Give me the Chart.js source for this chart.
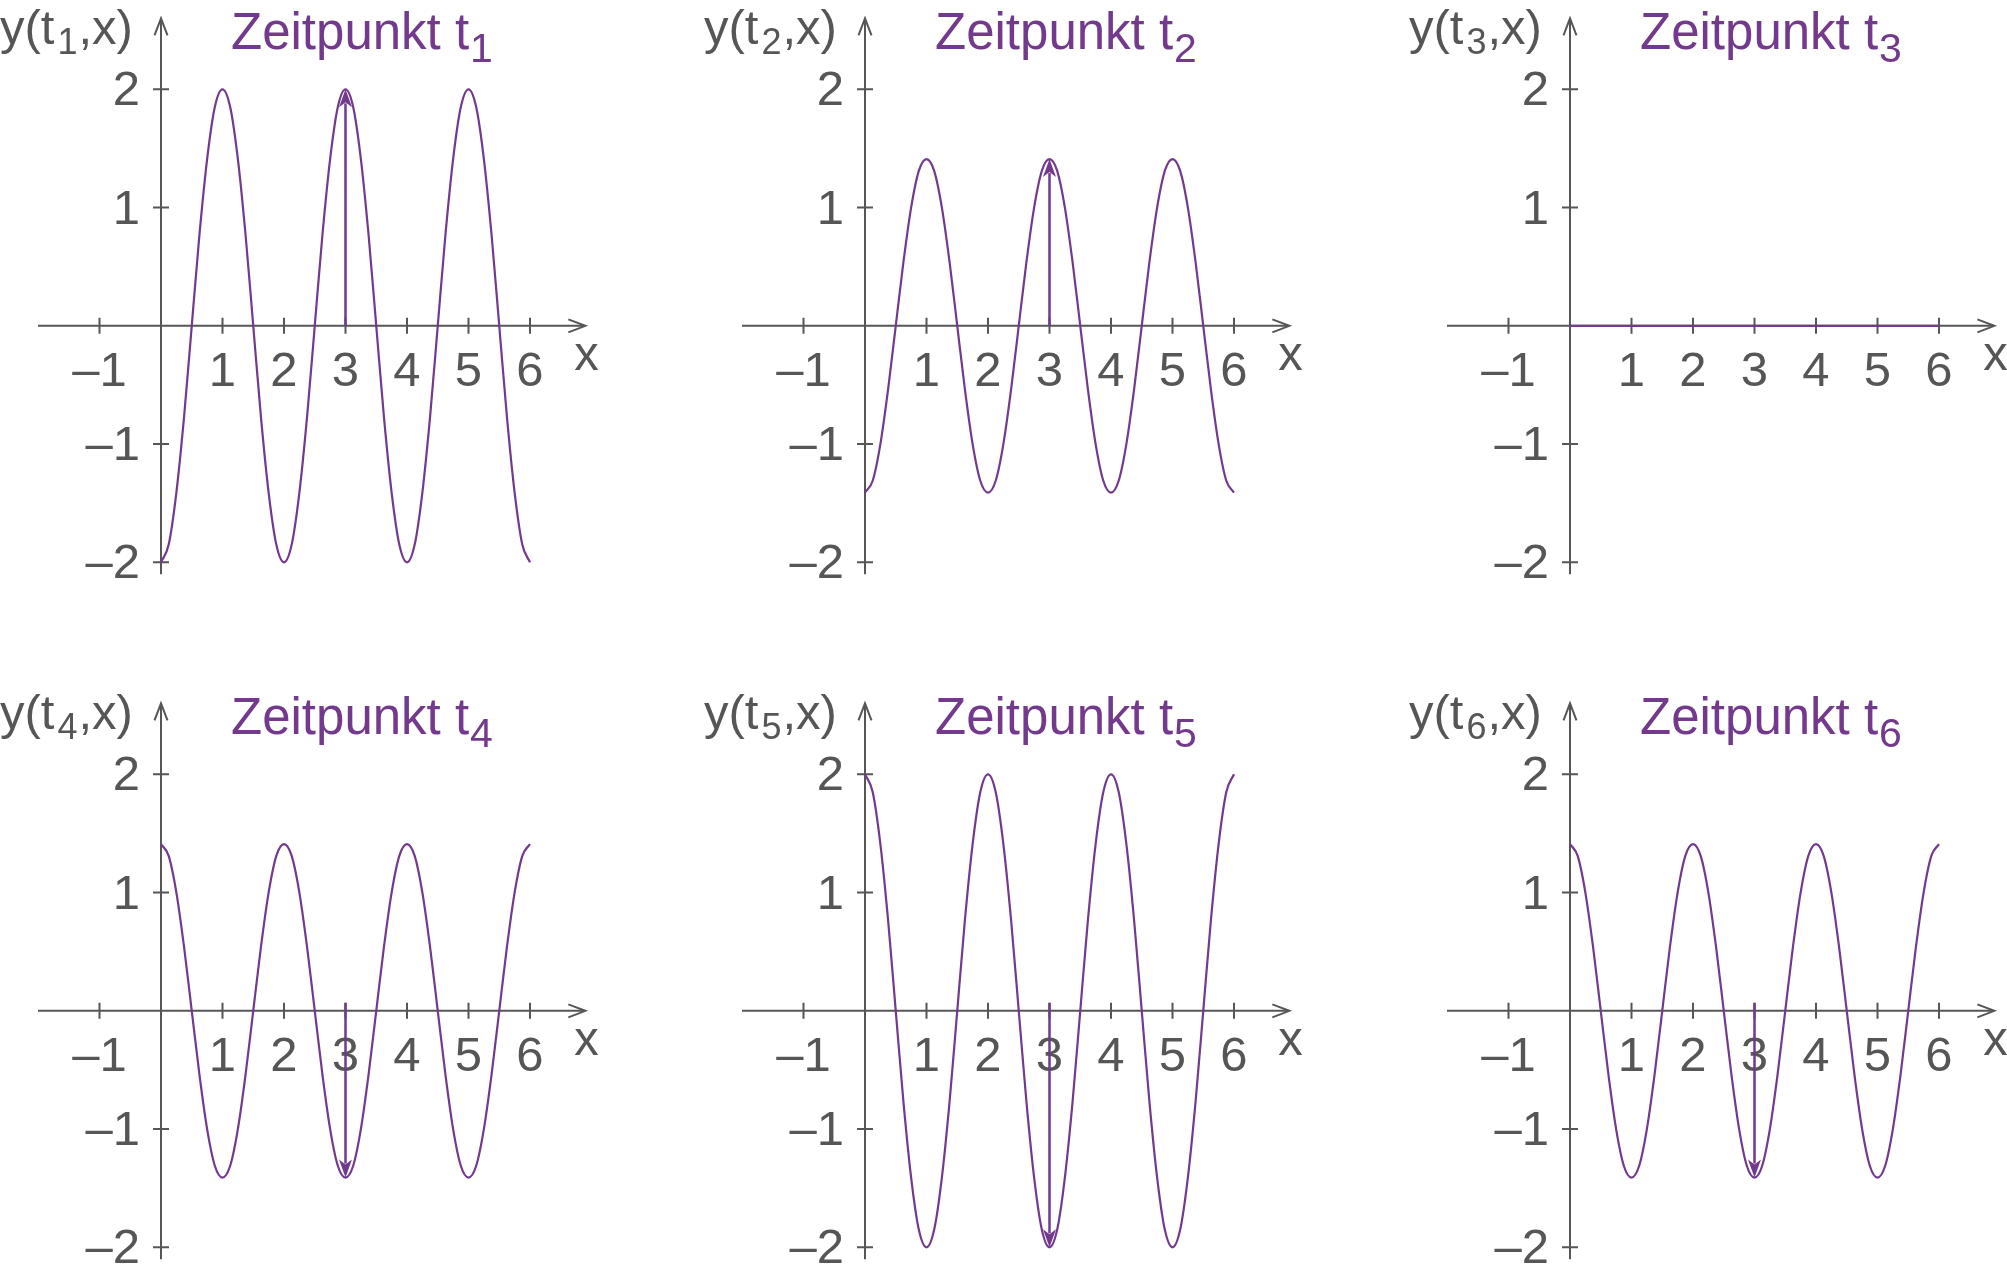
<!DOCTYPE html>
<html>
<head>
<meta charset="utf-8">
<script src="https://cdn.jsdelivr.net/npm/chart.js@4.4.0/dist/chart.umd.min.js"></script>
<style>
  html, body { margin: 0; padding: 0; background: #fff; overflow: hidden; }
  #wrap { position: relative; width: 2007px; height: 1272px; background: #fff; }
  #wrap canvas { position: absolute; }
</style>
</head>
<body>
<div id="wrap"></div>
<script>
// x positions of the sampled points (same for all six snapshots)
const xs = [
  0, 0.125, 0.25, 0.375, 0.5, 0.625, 0.75, 0.875,
  1, 1.125, 1.25, 1.375, 1.5, 1.625, 1.75, 1.875,
  2, 2.125, 2.25, 2.375, 2.5, 2.625, 2.75, 2.875,
  3, 3.125, 3.25, 3.375, 3.5, 3.625, 3.75, 3.875,
  4, 4.125, 4.25, 4.375, 4.5, 4.625, 4.75, 4.875,
  5, 5.125, 5.25, 5.375, 5.5, 5.625, 5.75, 5.875,
  6
];

// y(t_n, x)
const yT1 = [
  -2, -1.85, -1.41, -0.77, 0, 0.77, 1.41, 1.85, 2, 1.85, 1.41, 0.77, 0, -0.77, -1.41, -1.85,
  -2, -1.85, -1.41, -0.77, 0, 0.77, 1.41, 1.85, 2, 1.85, 1.41, 0.77, 0, -0.77, -1.41, -1.85,
  -2, -1.85, -1.41, -0.77, 0, 0.77, 1.41, 1.85, 2, 1.85, 1.41, 0.77, 0, -0.77, -1.41, -1.85,
  -2
];
const yT2 = [
  -1.41, -1.31, -1, -0.54, 0, 0.54, 1, 1.31, 1.41, 1.31, 1, 0.54, 0, -0.54, -1, -1.31,
  -1.41, -1.31, -1, -0.54, 0, 0.54, 1, 1.31, 1.41, 1.31, 1, 0.54, 0, -0.54, -1, -1.31,
  -1.41, -1.31, -1, -0.54, 0, 0.54, 1, 1.31, 1.41, 1.31, 1, 0.54, 0, -0.54, -1, -1.31,
  -1.41
];
const yT3 = [
  0, 0, 0, 0, 0, 0, 0, 0, 0, 0, 0, 0, 0, 0, 0, 0,
  0, 0, 0, 0, 0, 0, 0, 0, 0, 0, 0, 0, 0, 0, 0, 0,
  0, 0, 0, 0, 0, 0, 0, 0, 0, 0, 0, 0, 0, 0, 0, 0,
  0
];
const yT4 = [
  1.41, 1.31, 1, 0.54, 0, -0.54, -1, -1.31, -1.41, -1.31, -1, -0.54, 0, 0.54, 1, 1.31,
  1.41, 1.31, 1, 0.54, 0, -0.54, -1, -1.31, -1.41, -1.31, -1, -0.54, 0, 0.54, 1, 1.31,
  1.41, 1.31, 1, 0.54, 0, -0.54, -1, -1.31, -1.41, -1.31, -1, -0.54, 0, 0.54, 1, 1.31,
  1.41
];
const yT5 = [
  2, 1.85, 1.41, 0.77, 0, -0.77, -1.41, -1.85, -2, -1.85, -1.41, -0.77, 0, 0.77, 1.41, 1.85,
  2, 1.85, 1.41, 0.77, 0, -0.77, -1.41, -1.85, -2, -1.85, -1.41, -0.77, 0, 0.77, 1.41, 1.85,
  2, 1.85, 1.41, 0.77, 0, -0.77, -1.41, -1.85, -2, -1.85, -1.41, -0.77, 0, 0.77, 1.41, 1.85,
  2
];
const yT6 = [
  1.41, 1.31, 1, 0.54, 0, -0.54, -1, -1.31, -1.41, -1.31, -1, -0.54, 0, 0.54, 1, 1.31,
  1.41, 1.31, 1, 0.54, 0, -0.54, -1, -1.31, -1.41, -1.31, -1, -0.54, 0, 0.54, 1, 1.31,
  1.41, 1.31, 1, 0.54, 0, -0.54, -1, -1.31, -1.41, -1.31, -1, -0.54, 0, 0.54, 1, 1.31,
  1.41
];

const panelSeries = [yT1, yT2, yT3, yT4, yT5, yT6];
const panelSubs = ['1', '2', '3', '4', '5', '6'];
// displacement arrow at x = 3 (null = no arrow)
const arrowX = 3;
const arrowTips = [2, 1.41, null, -1.41, -2, -1.41];

const xTicks = [-1, 1, 2, 3, 4, 5, 6];
const yTicks = [-2, -1, 1, 2];

const PURPLE = '#72398c';
const GREY = '#565656';
const FONT = '"Liberation Sans", Arial, Helvetica, sans-serif';

const panelLeft = [0, 704, 1409];
const panelTop = [0, 685];
const W = 704, H = 590;

function tickLabel(v) {
  return v < 0 ? '\u2013' + (-v) : String(v);
}

// arrow head with tip at (x, y) pointing along angle
function drawHead(ctx, x, y, ang, filled) {
  ctx.save();
  ctx.translate(x, y);
  ctx.rotate(ang);
  ctx.beginPath();
  if (filled) {
    ctx.moveTo(0, 0);
    ctx.lineTo(-18, -6.5);
    ctx.lineTo(-13, 0);
    ctx.lineTo(-18, 6.5);
    ctx.closePath();
    ctx.fill();
  } else {
    ctx.moveTo(-17, -6.5);
    ctx.lineTo(0, 0);
    ctx.lineTo(-17, 6.5);
    ctx.stroke();
  }
  ctx.restore();
}

const axesPlugin = {
  id: 'crossAxes',
  beforeDatasetsDraw(chart) {
    const ctx = chart.ctx;
    const sx = chart.scales.x, sy = chart.scales.y;
    const x0 = sx.getPixelForValue(0), y0 = sy.getPixelForValue(0);
    const sub = chart.options.plugins.crossAxes.sub;
    ctx.save();
    ctx.strokeStyle = GREY;
    ctx.fillStyle = GREY;
    ctx.lineWidth = 2;

    // x axis with arrow
    const xl = sx.getPixelForValue(-2), xr = sx.getPixelForValue(6.9);
    ctx.beginPath(); ctx.moveTo(xl, y0); ctx.lineTo(xr - 1, y0); ctx.stroke();
    drawHead(ctx, xr, y0, 0, false);

    // y axis with arrow
    const yb = sy.getPixelForValue(-2.1), yt = sy.getPixelForValue(2.6);
    ctx.beginPath(); ctx.moveTo(x0, yb); ctx.lineTo(x0, yt + 1); ctx.stroke();
    drawHead(ctx, x0, yt, -Math.PI / 2, false);

    // tick marks
    ctx.beginPath();
    xTicks.forEach(v => {
      const p = sx.getPixelForValue(v);
      ctx.moveTo(p, y0 - 8); ctx.lineTo(p, y0 + 8);
    });
    yTicks.forEach(v => {
      const p = sy.getPixelForValue(v);
      ctx.moveTo(x0 - 8, p); ctx.lineTo(x0 + 8, p);
    });
    ctx.stroke();

    // tick labels
    ctx.font = '49px ' + FONT;
    ctx.textBaseline = 'alphabetic';
    ctx.textAlign = 'center';
    xTicks.forEach(v => {
      ctx.fillText(tickLabel(v), sx.getPixelForValue(v), y0 + 60);
    });
    ctx.textAlign = 'right';
    yTicks.forEach(v => {
      ctx.fillText(tickLabel(v), x0 - 21, sy.getPixelForValue(v) + 16);
    });

    // axis names
    ctx.textAlign = 'left';
    ctx.fillText('x', xr - 11, y0 + 44);

    ctx.font = '49px ' + FONT;
    let px = x0 - 161;
    const by = y0 - 282;
    ctx.fillText('y(t', px, by);
    px += ctx.measureText('y(t').width;
    ctx.font = '36px ' + FONT;
    ctx.fillText(sub, px + 3, by + 10);
    px += ctx.measureText(sub).width + 4;
    ctx.font = '49px ' + FONT;
    ctx.fillText(',x)', px, by);
    ctx.restore();
  },
  afterDatasetsDraw(chart) {
    const ctx = chart.ctx;
    const sx = chart.scales.x, sy = chart.scales.y;
    const o = chart.options.plugins.crossAxes;
    const y0 = sy.getPixelForValue(0);
    ctx.save();
    // title
    ctx.fillStyle = PURPLE;
    ctx.font = '51px ' + FONT;
    ctx.textAlign = 'left';
    ctx.textBaseline = 'alphabetic';
    const tx = sx.getPixelForValue(0) + 70, ty = y0 - 277;
    ctx.fillText('Zeitpunkt t', tx, ty);
    const w = ctx.measureText('Zeitpunkt t').width;
    ctx.font = '41px ' + FONT;
    ctx.fillText(o.sub, tx + w + 1, ty + 13);

    // displacement arrow
    if (o.tip !== null) {
      const ax = sx.getPixelForValue(arrowX);
      const tip = sy.getPixelForValue(o.tip);
      const dir = o.tip > 0 ? 1 : -1;
      ctx.strokeStyle = PURPLE;
      ctx.lineWidth = 2.5;
      ctx.beginPath();
      ctx.moveTo(ax, dir > 0 ? y0 : y0 - 8);
      ctx.lineTo(ax, tip + dir * 14);
      ctx.stroke();
      drawHead(ctx, ax, tip, dir > 0 ? -Math.PI / 2 : Math.PI / 2, true);
    }
    ctx.restore();
  }
};

const wrap = document.getElementById('wrap');

panelSeries.forEach((ys, i) => {
  const cv = document.createElement('canvas');
  cv.width = W; cv.height = H;
  cv.style.left = panelLeft[i % 3] + 'px';
  cv.style.top = panelTop[Math.floor(i / 3)] + 'px';
  wrap.appendChild(cv);

  new Chart(cv.getContext('2d'), {
    type: 'line',
    data: {
      datasets: [{
        data: xs.map((x, k) => ({ x: x, y: ys[k] })),
        borderColor: PURPLE,
        borderWidth: 2.2,
        pointRadius: 0,
        cubicInterpolationMode: 'monotone',
        fill: false
      }]
    },
    options: {
      responsive: false,
      animation: false,
      events: [],
      layout: { padding: { left: 38, right: 112.5, top: 18.35, bottom: 4 } },
      scales: {
        x: { type: 'linear', min: -2, max: 7, display: false },
        y: { type: 'linear', min: -2.2, max: 2.6, display: false }
      },
      plugins: {
        legend: { display: false },
        tooltip: { enabled: false },
        crossAxes: { sub: panelSubs[i], tip: arrowTips[i] }
      }
    },
    plugins: [axesPlugin]
  });
});
</script>
</body>
</html>
